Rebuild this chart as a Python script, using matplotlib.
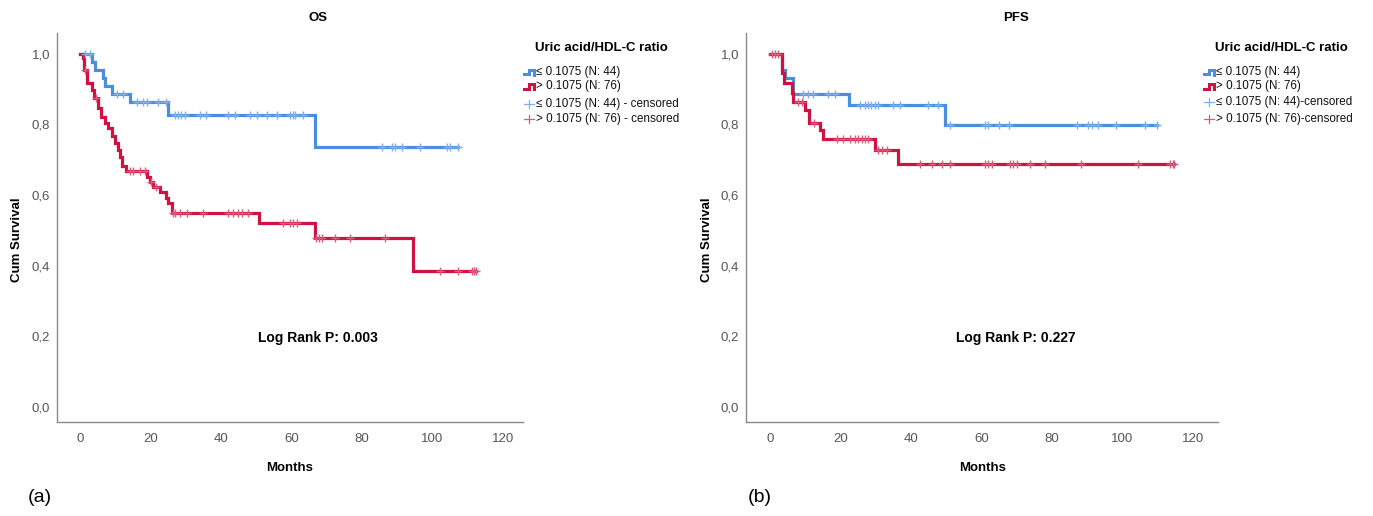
import numpy as np
import matplotlib
matplotlib.use("Agg")
import matplotlib.pyplot as plt
from matplotlib.lines import Line2D

plt.rcParams['font.family'] = ['Liberation Sans', 'DejaVu Sans']

# ---------------- data ----------------
group_labels = ["\u2264 0.1075 (N: 44)", "> 0.1075 (N: 76)"]
legend_title = "Uric acid/HDL-C ratio"
y_ticks = [0.0, 0.2, 0.4, 0.6, 0.8, 1.0]
y_tick_labels = ["0,0", "0,2", "0,4", "0,6", "0,8", "1,0"]
x_ticks = [0, 20, 40, 60, 80, 100, 120]

# OS, low ratio group
os_low_t = [0, 3.5, 4.4, 6.6, 7.1, 9.2, 14.2, 25.1, 66.7]
os_low_s = [1.0, 0.977, 0.955, 0.932, 0.909, 0.886, 0.863, 0.827, 0.737]
os_low_end = 107.3
os_low_cens = [1.4, 2.8, 10.4, 12.3, 16.3, 18.0, 19.1, 22.2, 24.4, 27.0, 27.9, 28.8,
               29.8, 34.0, 35.9, 42.1, 43.9, 48.2, 50.1, 53.0, 55.8, 59.6, 60.5, 61.0,
               63.3, 85.6, 88.4, 89.4, 91.3, 96.5, 104.0, 105.0, 107.3]

# OS, high ratio group
os_high_t = [0, 0.8, 1.1, 2.1, 3.3, 4.1, 5.2, 6.1, 7.1, 8.0, 9.0, 9.9, 10.9, 11.3,
             12.0, 13.0, 19.1, 19.9, 20.8, 22.7, 24.4, 25.0, 26.0, 50.9, 66.7, 94.4]
os_high_s = [1.0, 0.987, 0.955, 0.917, 0.898, 0.874, 0.846, 0.822, 0.804, 0.789,
             0.766, 0.747, 0.728, 0.709, 0.681, 0.667, 0.652, 0.638, 0.624, 0.610,
             0.591, 0.577, 0.550, 0.522, 0.478, 0.386]
os_high_end = 112.5
os_high_cens = [1.5, 4.5, 14.2, 15.1, 17.0, 18.4, 20.3, 21.5, 26.5, 27.0, 28.4, 30.3,
                35.0, 42.1, 43.5, 44.9, 45.9, 47.7, 57.7, 59.6, 60.5, 61.5, 67.1, 67.9,
                68.6, 72.3, 76.6, 86.5, 102.1, 107.3, 111.1, 111.9, 112.5]

# PFS, low ratio group
pfs_low_t = [0, 3.3, 4.3, 6.6, 22.5, 49.6]
pfs_low_s = [1.0, 0.955, 0.932, 0.886, 0.854, 0.799]
pfs_low_end = 109.7
pfs_low_cens = [9.5, 10.9, 12.3, 16.5, 18.4, 25.5, 27.0, 27.9, 28.8, 29.8, 30.7, 35.0,
                36.9, 44.9, 47.7, 51.1, 61.0, 61.9, 65.1, 67.9, 87.2, 90.3, 91.3, 93.1,
                98.3, 106.4, 109.7]

# PFS, high ratio group
pfs_high_t = [0, 3.3, 4.1, 6.2, 6.6, 9.9, 11.2, 14.2, 15.1, 29.8, 36.4]
pfs_high_s = [1.0, 0.945, 0.917, 0.889, 0.865, 0.841, 0.804, 0.785, 0.758, 0.728, 0.688]
pfs_high_end = 114.6
pfs_high_cens = [0.5, 1.4, 2.4, 8.0, 9.0, 12.5, 18.9, 20.8, 22.7, 24.1, 25.1, 26.0,
                 27.0, 27.9, 30.7, 31.7, 33.1, 42.6, 45.9, 48.7, 51.1, 61.0, 61.9, 62.9,
                 68.1, 69.0, 70.0, 73.9, 78.0, 88.1, 104.3, 113.5, 114.3, 114.6]

# ---------------- styling ----------------
BLUE = "#4c8ede"
RED = "#cf1242"
BLUE_L = "#7fb0ea"
RED_L = "#dc5a7c"
SPINE = "#8a8a8a"
TICKC = "#555555"

W, H = 1373, 516
fig = plt.figure(figsize=(W / 100, H / 100), dpi=100)
fig.patch.set_facecolor("white")


def fx(px):
    return px / W


def fy(py):
    return 1 - py / H


def make_axes(left_px, right_px, xlim):
    top_px, bottom_px = 33, 422
    ax = fig.add_axes([fx(left_px), fy(bottom_px), (right_px - left_px) / W,
                       (bottom_px - top_px) / H])
    ax.set_xlim(*xlim)
    ax.set_ylim(-0.0425, 1.059)
    for s in ["top", "right"]:
        ax.spines[s].set_visible(False)
    for s in ["left", "bottom"]:
        ax.spines[s].set_color(SPINE)
        ax.spines[s].set_linewidth(1.0)
    ax.set_xticks(x_ticks)
    ax.set_yticks(y_ticks)
    ax.set_yticklabels(y_tick_labels)
    ax.tick_params(axis="both", length=0, labelsize=9.5, colors=TICKC)
    ax.tick_params(axis="x", pad=8)
    ax.tick_params(axis="y", pad=5)
    return ax


def draw_km(ax, t, s, end, cens, color, lcolor):
    xs = list(t) + [end]
    ys = list(s) + [s[-1]]
    ax.plot(xs, ys, drawstyle="steps-post", color=color, lw=2.3, zorder=3,
            solid_joinstyle="miter")
    tt = np.asarray(t)
    ss = np.asarray(s)
    c = np.asarray(cens)
    idx = np.searchsorted(tt, c, side="right") - 1
    ax.plot(c, ss[idx], linestyle="none", marker="+", ms=6, mew=1.0,
            color=lcolor, zorder=4)


def draw_legend(x0, ys, title_y, censored_fmt):
    fig.text(fx(x0 + 11), fy(title_y), legend_title, fontsize=9.5,
             fontweight="bold", ha="left", va="center")
    cols = [BLUE, RED]
    lcols = [BLUE_L, RED_L]
    for i in range(2):
        y = ys[i]
        px = [x0, x0 + 5, x0 + 5, x0 + 9.5, x0 + 9.5]
        py = [y + 2, y + 2, y - 2.5, y - 2.5, y + 2.5]
        fig.add_artist(Line2D([fx(p) for p in px], [fy(p) for p in py],
                              color=cols[i], lw=2.2, transform=fig.transFigure,
                              solid_joinstyle="miter"))
        fig.text(fx(x0 + 12), fy(y), group_labels[i], fontsize=8.4,
                 ha="left", va="center", color="#111111")
    for i in range(2):
        y = ys[2 + i]
        fig.add_artist(Line2D([fx(x0), fx(x0 + 10)], [fy(y), fy(y)],
                              color=lcols[i], lw=0.9, transform=fig.transFigure))
        fig.add_artist(Line2D([fx(x0 + 5), fx(x0 + 5)], [fy(y - 4), fy(y + 4)],
                              color=lcols[i], lw=0.9, transform=fig.transFigure))
        fig.text(fx(x0 + 12), fy(y), censored_fmt.format(group_labels[i]),
                 fontsize=8.4, ha="left", va="center", color="#111111")


# ---------------- panel (a): OS ----------------
ax1 = make_axes(57, 523, (-6.5, 125.7))
draw_km(ax1, os_low_t, os_low_s, os_low_end, os_low_cens, BLUE, BLUE_L)
draw_km(ax1, os_high_t, os_high_s, os_high_end, os_high_cens, RED, RED_L)
fig.text(fx(318), fy(18), "OS", fontsize=9.5, fontweight="bold", ha="center", va="center")
fig.text(fx(318), fy(338), "Log Rank P: 0.003", fontsize=10, fontweight="bold",
         ha="center", va="center")
fig.text(fx(290), fy(468), "Months", fontsize=9.5, fontweight="bold", ha="center", va="center")
fig.text(fx(17), fy(240), "Cum Survival", fontsize=9.5, fontweight="bold",
         ha="center", va="center", rotation=90)
fig.text(fx(40), fy(497), "(a)", fontsize=14, ha="center", va="center")
draw_legend(524, [72, 86.5, 104, 119], 48, "{} - censored")

# ---------------- panel (b): PFS ----------------
ax2 = make_axes(746, 1218, (-6.8, 127.1))
draw_km(ax2, pfs_low_t, pfs_low_s, pfs_low_end, pfs_low_cens, BLUE, BLUE_L)
draw_km(ax2, pfs_high_t, pfs_high_s, pfs_high_end, pfs_high_cens, RED, RED_L)
fig.text(fx(1016), fy(18), "PFS", fontsize=9.5, fontweight="bold", ha="center", va="center")
fig.text(fx(1016), fy(338), "Log Rank P: 0.227", fontsize=10, fontweight="bold",
         ha="center", va="center")
fig.text(fx(983), fy(468), "Months", fontsize=9.5, fontweight="bold", ha="center", va="center")
fig.text(fx(707), fy(240), "Cum Survival", fontsize=9.5, fontweight="bold",
         ha="center", va="center", rotation=90)
fig.text(fx(760), fy(497), "(b)", fontsize=14, ha="center", va="center")
draw_legend(1204, [72, 86.5, 102, 119], 48, "{}-censored")

fig.savefig("out.png", dpi=100)
